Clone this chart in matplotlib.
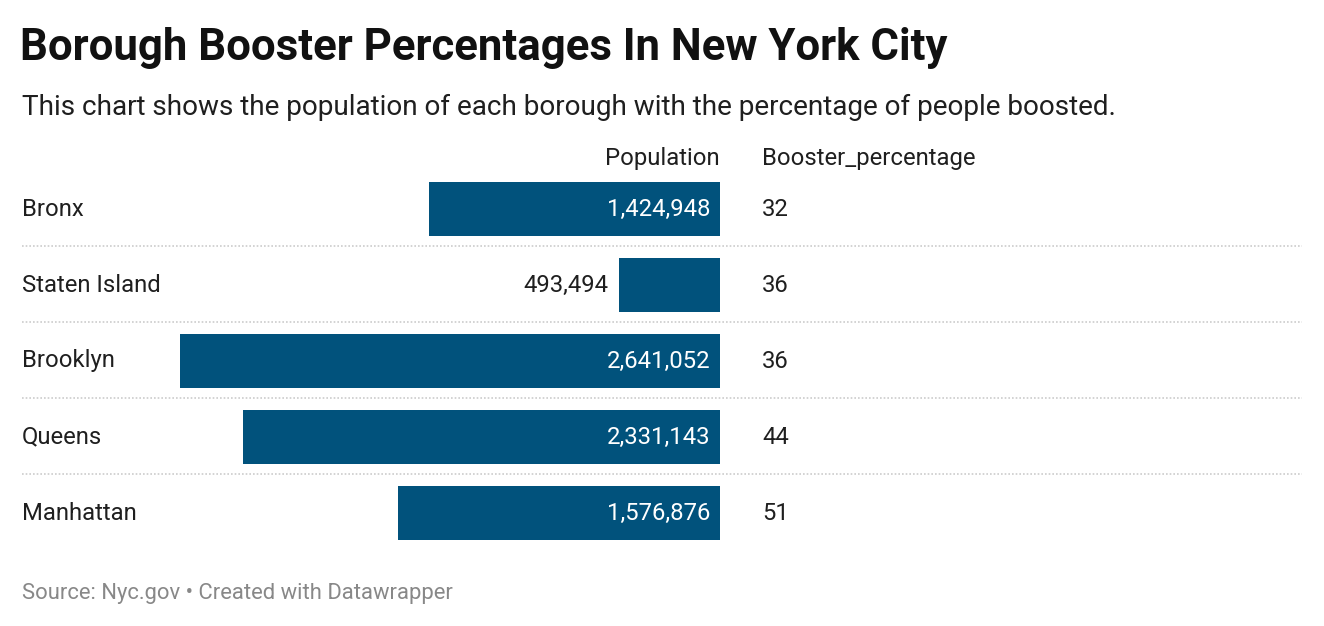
import matplotlib.pyplot as plt

plt.rcParams['font.family'] = ['Roboto', 'DejaVu Sans']

boroughs = ['Bronx', 'Staten Island', 'Brooklyn', 'Queens', 'Manhattan']
population = [1424948, 493494, 2641052, 2331143, 1576876]
booster_pct = [32, 36, 36, 44, 51]

W, H = 1324, 626
fig = plt.figure(figsize=(W / 100, H / 100), dpi=100)
fig.patch.set_facecolor('white')

def px(x, y):
    return x / W, 1 - y / H

bar_color = '#01527c'
text_color = '#1f1f1f'
fs = 17.2

# bar axes: right edge at x=720, longest bar reaches x=180
ax = fig.add_axes([180 / W, 1 - 551 / H, 540 / W, 380 / H])
ypos = list(range(len(boroughs)))
ax.barh(ypos, population, height=0.71, color=bar_color)
ax.set_xlim(max(population), 0)
ax.set_ylim(len(boroughs) - 0.5, -0.5)
ax.axis('off')

for i, v in enumerate(population):
    label = f'{v:,}'
    if v > 700000:
        ax.annotate(label, (0, i), xytext=(-7, 0), textcoords='offset points',
                    ha='right', va='center', color='white', fontsize=fs)
    else:
        ax.annotate(label, (v, i), xytext=(-8, 0), textcoords='offset points',
                    ha='right', va='center', color=text_color, fontsize=fs)

# row labels, percentages, separators
for i, name in enumerate(boroughs):
    yc = 209 + 76 * i
    fig.text(*px(22, yc), name, ha='left', va='center', fontsize=fs, color=text_color)
    fig.text(*px(762, yc), str(booster_pct[i]), ha='left', va='center', fontsize=fs,
             color=text_color)
    if i < len(boroughs) - 1:
        ys = yc + 37
        fig.add_artist(plt.Line2D([22 / W, 1302 / W], [1 - ys / H, 1 - ys / H],
                                  color='#cccccc', lw=1.2, linestyle=(0, (1, 1.2))))

fig.text(*px(720, 159), 'Population', ha='right', va='center', fontsize=fs, color=text_color)
fig.text(*px(762, 159), 'Booster_percentage', ha='left', va='center', fontsize=fs,
         color=text_color)

fig.text(*px(20, 48), 'Borough Booster Percentages In New York City', ha='left',
         va='center', fontsize=31.5, fontweight='bold', color='#111111')
fig.text(*px(22, 107), 'This chart shows the population of each borough with the percentage of people boosted.',
         ha='left', va='center', fontsize=20.1, color=text_color)
fig.text(*px(22, 593), 'Source: Nyc.gov \u2022 Created with Datawrapper', ha='left',
         va='center', fontsize=15.8, color='#888888')

fig.savefig('out.png', dpi=100)
